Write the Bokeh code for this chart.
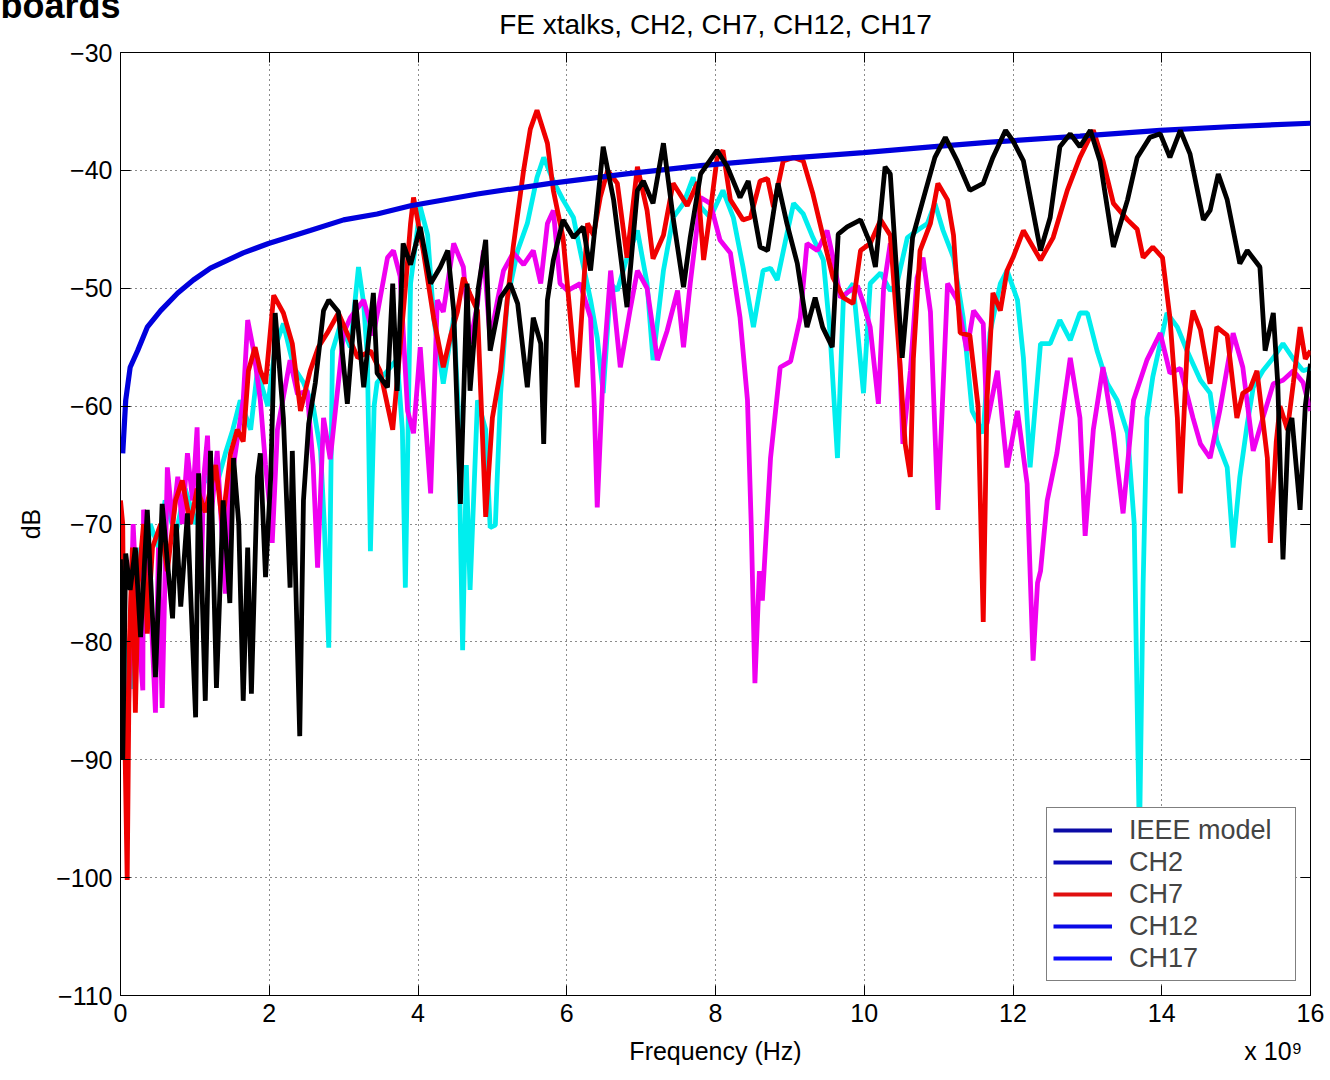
from bokeh.plotting import figure
from bokeh.models import Range1d, FixedTicker, LinearAxis, Legend, LegendItem, Title
from bokeh.embed import file_html
from bokeh.resources import INLINE

# ---------------- data (frequency in GHz, level in dB) ----------------
ieee_model = [(0.03, -64), (0.07, -59.5), (0.13, -56.7), (0.23, -55.3), (0.36, -53.3),
              (0.54, -51.9), (0.77, -50.4), (0.98, -49.3), (1.21, -48.3), (1.65, -47.0),
              (1.99, -46.2), (2.55, -45.1), (3.0, -44.2), (3.45, -43.7), (3.9, -43.0),
              (4.8, -42.0), (5.78, -41.1), (6.8, -40.3), (7.8, -39.6), (8.9, -39.0),
              (9.99, -38.5), (10.9, -38.0), (11.7, -37.6), (12.9, -37.1), (13.98, -36.6),
              (14.9, -36.3), (16.0, -36.0)]

ch2 = [(0.0, -73), (0.03, -90), (0.07, -72.5), (0.13, -75.6), (0.20, -72), (0.27, -79.6),
       (0.36, -68.8), (0.47, -83), (0.56, -68.3), (0.70, -78), (0.75, -70), (0.81, -77),
       (0.90, -69.1), (1.01, -86.4), (1.05, -65.7), (1.14, -85), (1.21, -63.8), (1.29, -83.9),
       (1.38, -68), (1.47, -76.7), (1.52, -64.4), (1.59, -70), (1.65, -85), (1.71, -72),
       (1.76, -84.4), (1.84, -66), (1.88, -64), (1.95, -74.5), (2.02, -66), (2.08, -52.1),
       (2.19, -61), (2.28, -75.4), (2.31, -63.8), (2.41, -88), (2.46, -68), (2.53, -61.5),
       (2.62, -58), (2.73, -51.9), (2.80, -51), (2.93, -52), (3.05, -59.8), (3.16, -51),
       (3.27, -58.4), (3.40, -50.4), (3.45, -57.2), (3.59, -58.4), (3.66, -49.6), (3.72, -58.7),
       (3.80, -46.2), (3.90, -48), (4.03, -44.8), (4.17, -49.6), (4.30, -48.2), (4.40, -46.8),
       (4.48, -51.9), (4.57, -68.3), (4.66, -49.6), (4.70, -58.7), (4.81, -50), (4.91, -45.9),
       (4.97, -55.3), (5.11, -50.8), (5.24, -49.6), (5.34, -51.3), (5.47, -58.4), (5.55, -52.5),
       (5.65, -54.7), (5.69, -63.2), (5.74, -51), (5.82, -47.6), (5.95, -44.2), (6.09, -45.7),
       (6.22, -44.8), (6.32, -48.5), (6.49, -38), (6.63, -42.5), (6.81, -51.6), (6.95, -41.7),
       (7.03, -40.9), (7.16, -42.8), (7.30, -37.7), (7.43, -44), (7.57, -49.9), (7.66, -45.7),
       (7.80, -40.3), (8.02, -38.3), (8.16, -39.7), (8.33, -42.3), (8.44, -40.9), (8.60, -46.5),
       (8.70, -46.8), (8.84, -41.1), (8.96, -44.5), (9.10, -47.9), (9.23, -53.3), (9.34, -50.8),
       (9.44, -53.3), (9.57, -55), (9.65, -45.4), (9.77, -44.8), (9.95, -44.2), (10.08, -46.2),
       (10.15, -48.2), (10.28, -39.7), (10.35, -40.3), (10.51, -55.9), (10.65, -45.7), (10.79, -42.5),
       (10.95, -38.9), (11.09, -37.2), (11.25, -39.2), (11.42, -41.7), (11.60, -41.1), (11.73, -38.9),
       (11.90, -36.6), (12.00, -37.5), (12.14, -39.2), (12.37, -46.8), (12.50, -44), (12.63, -38),
       (12.77, -36.9), (12.90, -38), (13.04, -36.6), (13.17, -39.2), (13.35, -46.5), (13.54, -42.5),
       (13.67, -38.9), (13.84, -37.2), (13.98, -36.9), (14.11, -38.9), (14.25, -36.6), (14.38, -38.6),
       (14.56, -44.2), (14.65, -43.4), (14.76, -40.3), (14.88, -42.5), (15.05, -47.9), (15.15, -46.8),
       (15.32, -48.2), (15.39, -55.3), (15.50, -52.1), (15.56, -58.1), (15.63, -73), (15.70, -62),
       (15.75, -61), (15.86, -68.8), (15.93, -60), (16.0, -56.4)]

ch7 = [(0.0, -68), (0.03, -70), (0.05, -85), (0.09, -100.2), (0.12, -80), (0.16, -72),
       (0.20, -86), (0.24, -75), (0.31, -70), (0.36, -79.3), (0.43, -72), (0.54, -70),
       (0.63, -74), (0.74, -68), (0.83, -66.3), (0.94, -70), (1.03, -67), (1.14, -69),
       (1.28, -65), (1.37, -70), (1.48, -64), (1.57, -62), (1.65, -63), (1.72, -57),
       (1.81, -55), (1.88, -57), (1.95, -58.1), (2.06, -50.6), (2.19, -52.1), (2.31, -54.7),
       (2.42, -60.4), (2.55, -57), (2.66, -55), (2.78, -53.8), (2.93, -52.1), (3.06, -54),
       (3.19, -55.9), (3.36, -55.3), (3.49, -57), (3.66, -62), (3.76, -55), (3.83, -50),
       (3.90, -44.5), (3.94, -42.3), (4.07, -46.8), (4.21, -52.5), (4.34, -56.7), (4.44, -54),
       (4.53, -52), (4.61, -49.1), (4.70, -50.5), (4.80, -51.9), (4.91, -69.4), (5.00, -61),
       (5.11, -57), (5.20, -51), (5.28, -46.5), (5.42, -40), (5.51, -36.5), (5.60, -34.9),
       (5.74, -37.7), (5.82, -41.7), (5.95, -45.7), (6.09, -55.3), (6.14, -58.4), (6.28, -44.5),
       (6.36, -45.5), (6.45, -42.3), (6.55, -40), (6.68, -41.1), (6.81, -47.4), (6.95, -39.7),
       (7.08, -43.4), (7.16, -47.5), (7.30, -45.5), (7.43, -41.1), (7.62, -43), (7.76, -41),
       (7.84, -47.6), (7.93, -43.5), (8.02, -39), (8.10, -38.3), (8.20, -42.5), (8.37, -44.2),
       (8.47, -44), (8.60, -40.9), (8.70, -40.7), (8.78, -43.1), (8.91, -39.2), (9.05, -38.9),
       (9.18, -39.2), (9.31, -42), (9.45, -45.7), (9.58, -49.1), (9.72, -50.8), (9.85, -51.3),
       (9.95, -46.8), (10.08, -46.2), (10.22, -44.2), (10.35, -45.5), (10.48, -56.4), (10.55, -63.2),
       (10.62, -66), (10.66, -56), (10.75, -46.8), (10.89, -44.5), (10.99, -41.1), (11.12, -42.5),
       (11.20, -45.5), (11.29, -53.8), (11.42, -54), (11.53, -60), (11.60, -78.3), (11.65, -59.5),
       (11.73, -50.4), (11.83, -51.9), (11.92, -48.5), (12.00, -47.4), (12.14, -45.1), (12.37, -47.6),
       (12.54, -45.7), (12.73, -41.7), (12.90, -38.9), (13.08, -36.6), (13.21, -39.2), (13.35, -42.8),
       (13.54, -44.2), (13.67, -45), (13.75, -47.4), (13.88, -46.5), (14.01, -47.4), (14.11, -52.5),
       (14.21, -61), (14.25, -67.4), (14.34, -55.3), (14.42, -51.9), (14.52, -53.5), (14.65, -58.1),
       (14.74, -53.3), (14.88, -54), (15.01, -61), (15.09, -58.9), (15.19, -58.5), (15.28, -57),
       (15.42, -64.4), (15.46, -71.6), (15.54, -63), (15.59, -60), (15.69, -62), (15.77, -58),
       (15.86, -53.3), (15.93, -56), (16.0, -55.3)]

ch12 = [(0.03, -74), (0.07, -85), (0.11, -80), (0.15, -84), (0.19, -76), (0.23, -80),
        (0.27, -72), (0.34, -74), (0.40, -70), (0.51, -72), (0.60, -68), (0.74, -71),
        (0.87, -67), (1.01, -70), (1.14, -66), (1.28, -67), (1.41, -64), (1.51, -62),
        (1.61, -59.5), (1.75, -62), (1.84, -57), (1.98, -60), (2.08, -55), (2.19, -53),
        (2.33, -56.7), (2.46, -58), (2.59, -60), (2.69, -63.8), (2.74, -70), (2.80, -80.5),
        (2.85, -55.3), (2.96, -53), (3.09, -55), (3.20, -48.2), (3.27, -51.3), (3.32, -56),
        (3.36, -72.3), (3.41, -60), (3.45, -58), (3.59, -57), (3.72, -56), (3.79, -62),
        (3.83, -75.4), (3.90, -49.6), (4.03, -43.1), (4.13, -45.5), (4.21, -52.5), (4.34, -58.1),
        (4.48, -52.5), (4.54, -60), (4.60, -80.7), (4.65, -65), (4.70, -75.6), (4.80, -59.5),
        (4.91, -62), (4.97, -70.3), (5.04, -70.1), (5.11, -59), (5.20, -51), (5.34, -46.8),
        (5.47, -44.5), (5.60, -40.6), (5.69, -38.9), (5.82, -40.9), (5.95, -42.5), (6.09, -44),
        (6.18, -46.8), (6.32, -51), (6.41, -54.2), (6.49, -58.9), (6.59, -49.6), (6.68, -50.2),
        (6.81, -47.4), (6.95, -45.1), (7.08, -49.6), (7.16, -56.1), (7.30, -48.5), (7.43, -44),
        (7.57, -42.8), (7.70, -40.6), (7.80, -43.1), (7.93, -44), (8.10, -41.7), (8.24, -44),
        (8.37, -48.2), (8.51, -53.3), (8.64, -48.5), (8.74, -48.3), (8.83, -49.3), (8.96, -45.4),
        (9.05, -42.8), (9.18, -43.7), (9.31, -45.7), (9.45, -47.6), (9.54, -53.8), (9.64, -64.4),
        (9.72, -50.8), (9.85, -49.6), (9.99, -58.9), (10.08, -49.6), (10.22, -48.7), (10.35, -50.2),
        (10.44, -49.6), (10.58, -45.7), (10.71, -45.1), (10.85, -44.5), (10.95, -42.8), (11.06, -45.1),
        (11.20, -47.4), (11.33, -52.5), (11.45, -60.4), (11.60, -62.3), (11.69, -53.8), (11.83, -49.6),
        (11.92, -48.5), (12.06, -51), (12.14, -55.9), (12.23, -65.2), (12.37, -54.7), (12.50, -54.7),
        (12.63, -52.7), (12.77, -54.4), (12.90, -52.1), (13.00, -52.1), (13.13, -55.3), (13.27, -58.1),
        (13.40, -59.5), (13.54, -62.3), (13.63, -70), (13.70, -97), (13.75, -75), (13.80, -61),
        (13.88, -57.5), (14.07, -52.1), (14.21, -53.3), (14.34, -55.3), (14.52, -57.8), (14.65, -58.9),
        (14.74, -62.9), (14.88, -65.2), (14.96, -72), (15.05, -66), (15.15, -61.5), (15.23, -58.4),
        (15.36, -57), (15.50, -55.9), (15.63, -54.7), (15.77, -56), (15.90, -57), (16.0, -56.8)]

ch17 = [(0.03, -80), (0.07, -91.2), (0.11, -85), (0.15, -75), (0.17, -70), (0.23, -78),
        (0.30, -84.1), (0.31, -68.8), (0.36, -70), (0.40, -76), (0.47, -86), (0.51, -72),
        (0.56, -85.6), (0.63, -65.2), (0.70, -70), (0.77, -66), (0.83, -70), (0.90, -64),
        (0.97, -68), (1.03, -61.8), (1.08, -75.9), (1.12, -66), (1.17, -62.5), (1.21, -70),
        (1.30, -63.8), (1.41, -75.9), (1.47, -66), (1.52, -65), (1.59, -62), (1.65, -59.5),
        (1.71, -52.7), (1.79, -55.3), (1.88, -59.5), (1.95, -65), (2.02, -69.4), (2.04, -71.6),
        (2.11, -62), (2.28, -56.1), (2.38, -59), (2.51, -58.7), (2.59, -65), (2.65, -73.7),
        (2.73, -61), (2.82, -64.5), (3.00, -53.8), (3.09, -52.5), (3.27, -51), (3.40, -54),
        (3.59, -47.4), (3.67, -46.8), (3.76, -49), (3.86, -60.4), (3.94, -62.3), (4.03, -55),
        (4.17, -67.4), (4.26, -51), (4.34, -52), (4.48, -46.2), (4.61, -48.2), (4.70, -54.7),
        (4.80, -51.3), (4.88, -46.8), (4.97, -54.4), (5.07, -51), (5.15, -48.5), (5.28, -47),
        (5.42, -48), (5.55, -46.8), (5.65, -49.6), (5.74, -44.5), (5.82, -43.4), (5.91, -49.6),
        (6.01, -50.2), (6.18, -49.6), (6.32, -52.5), (6.37, -60), (6.41, -68.6), (6.49, -57),
        (6.59, -48.5), (6.72, -56.7), (6.85, -51.9), (6.95, -48.5), (7.08, -50), (7.22, -56.1),
        (7.35, -53.6), (7.49, -50.2), (7.57, -55), (7.66, -49.6), (7.80, -42.3), (7.93, -42.8),
        (8.06, -45.9), (8.20, -47), (8.33, -52.5), (8.43, -59.5), (8.48, -70), (8.53, -83.5),
        (8.59, -74), (8.63, -76.5), (8.74, -64.4), (8.87, -56.7), (9.01, -56.2), (9.14, -52.5),
        (9.23, -46.2), (9.37, -46.8), (9.50, -45.1), (9.58, -47.4), (9.68, -50.8), (9.81, -50.2),
        (9.91, -49.8), (9.99, -51.3), (10.08, -53.3), (10.19, -59.8), (10.26, -50), (10.35, -46.2),
        (10.44, -50), (10.52, -63.2), (10.62, -57), (10.71, -49.1), (10.79, -47.4), (10.89, -52),
        (10.99, -68.8), (11.12, -49.6), (11.25, -51), (11.38, -55.3), (11.47, -51.9), (11.60, -53),
        (11.65, -61.5), (11.79, -57), (11.92, -65.2), (12.06, -60.4), (12.19, -66.6), (12.27, -81.6),
        (12.33, -75), (12.37, -74), (12.46, -68), (12.59, -64), (12.77, -55.9), (12.90, -61),
        (12.97, -71), (13.08, -62), (13.21, -56.7), (13.35, -62.3), (13.48, -69.1), (13.62, -59.5),
        (13.80, -56.1), (13.98, -53.8), (14.11, -57.2), (14.25, -56.8), (14.42, -61), (14.52, -63.2),
        (14.65, -64.4), (14.78, -60.4), (14.96, -53.8), (15.09, -56.7), (15.23, -63.8), (15.36, -61),
        (15.50, -58.1), (15.63, -57.8), (15.77, -57), (15.90, -58), (16.0, -60.4)]

x_ticks = [0, 2, 4, 6, 8, 10, 12, 14, 16]
x_tick_labels = ["0", "2", "4", "6", "8", "10", "12", "14", "16"]
y_ticks = [-110, -100, -90, -80, -70, -60, -50, -40, -30]
y_tick_labels = ["\u2212110", "\u2212100", "\u221290", "\u221280", "\u221270",
                 "\u221260", "\u221250", "\u221240", "\u221230"]

title_text = "FE xtalks, CH2, CH7, CH12, CH17"
header_text = "boards"
x_label_text = "Frequency (Hz)"
x_exponent_text = "x 10\u2079"
x_label_positions = [8.0, 15.5]          # where the x-axis caption and the exponent sit

legend_labels = ["IEEE model", "CH2", "CH7", "CH12", "CH17"]
legend_colors = ["#0b0ba6", "#0b0bb8", "#e01010", "#0b0be6", "#0b0bff"]

FONT = "Liberation Sans"

# ---------------- figure ----------------
p = figure(width=1330, height=1080, output_backend="svg", toolbar_location=None,
           x_range=Range1d(0, 16), y_range=Range1d(-110, -30),
           min_border_left=120, min_border_right=20, min_border_top=52, min_border_bottom=85)
p.background_fill_color = "white"
p.border_fill_color = "white"
p.outline_line_color = "black"
p.outline_line_width = 1


def unzip(pairs):
    return [a for a, b in pairs], [b for a, b in pairs]


LW = 4.8
fx, fy = unzip(ch12)
p.line(fx, fy, line_color="#00eeee", line_width=LW)
fx, fy = unzip(ch17)
p.line(fx, fy, line_color="#f000f0", line_width=LW)
fx, fy = unzip(ch7)
p.line(fx, fy, line_color="#f00000", line_width=LW)
fx, fy = unzip(ieee_model)
p.line(fx, fy, line_color="#0000dd", line_width=LW + 0.4)
fx, fy = unzip(ch2)
p.line(fx, fy, line_color="black", line_width=LW)

# main axes
for ax in (p.xaxis[0], p.yaxis[0]):
    ax.major_tick_in = 10
    ax.major_tick_out = 0
    ax.minor_tick_line_color = None
    ax.major_tick_line_color = "black"
    ax.axis_line_color = "black"
    ax.major_label_text_font = FONT
    ax.major_label_text_font_size = "25px"
    ax.major_label_text_color = "black"
    ax.axis_label_text_font = FONT
    ax.axis_label_text_font_size = "25px"
    ax.axis_label_text_font_style = "normal"
    ax.axis_label_text_color = "black"
    ax.major_label_standoff = 8

p.xaxis[0].ticker = FixedTicker(ticks=x_ticks)
p.xaxis[0].major_label_overrides = dict(zip(x_ticks, x_tick_labels))
p.yaxis[0].ticker = FixedTicker(ticks=y_ticks)
p.yaxis[0].major_label_overrides = dict(zip(y_ticks, y_tick_labels))
p.yaxis[0].axis_label = "dB"
p.yaxis[0].axis_label_standoff = 8

# mirrored ticks on the right (MATLAB box), no labels drawn
ax_r = LinearAxis(ticker=FixedTicker(ticks=y_ticks), major_tick_in=10, major_tick_out=0,
                  minor_tick_line_color=None, major_label_text_font_size="1px",
                  major_label_text_color=None, axis_line_color=None, major_label_standoff=0)
p.add_layout(ax_r, "right")

# mirrored ticks on top; its caption is the chart title
ax_t = LinearAxis(ticker=FixedTicker(ticks=x_ticks), major_tick_in=10, major_tick_out=0,
                  minor_tick_line_color=None, major_label_text_font_size="1px",
                  major_label_text_color=None, axis_line_color=None, major_label_standoff=0,
                  axis_label=title_text, axis_label_text_font=FONT,
                  axis_label_text_font_size="28px", axis_label_text_font_style="normal",
                  axis_label_text_color="black", axis_label_standoff=13)
p.add_layout(ax_t, "above")

# caption row under the x tick labels: "Frequency (Hz)" and the exponent
ax_cap = LinearAxis(ticker=FixedTicker(ticks=x_label_positions),
                    major_label_overrides=dict(zip(x_label_positions, [x_label_text, x_exponent_text])),
                    major_tick_in=0, major_tick_out=0, major_tick_line_color=None,
                    minor_tick_line_color=None, axis_line_color=None,
                    major_label_text_font=FONT, major_label_text_font_size="25px",
                    major_label_text_color="black", major_label_standoff=12)
p.add_layout(ax_cap, "below")

# cut-off slide header at the very top-left
hdr = Title(text=header_text, align="left", offset=-120, standoff=-41, vertical_align="bottom",
            text_font=FONT, text_font_size="36px", text_font_style="bold", text_color="black")
p.add_layout(hdr, "above")

# grid
for g in (p.xgrid[0], p.ygrid[0]):
    g.grid_line_color = "black"
    g.grid_line_dash = "1 4"
    g.grid_line_alpha = 0.9
    g.grid_line_width = 1
p.xgrid[0].ticker = FixedTicker(ticks=x_ticks)
p.ygrid[0].ticker = FixedTicker(ticks=y_ticks)

# legend with the original (mismatched) colours
nan = float("nan")
items = []
for lab, col in zip(legend_labels, legend_colors):
    r = p.line([0, 1], [nan, nan], line_color=col, line_width=4)
    items.append(LegendItem(label=lab, renderers=[r]))
legend = Legend(items=items, location="bottom_right", margin=14, padding=6, spacing=0,
                glyph_width=59, glyph_height=32, label_height=32, label_standoff=17,
                label_width=160,
                label_text_font=FONT, label_text_font_size="27px",
                border_line_color="black", border_line_width=1,
                background_fill_color="white", background_fill_alpha=1.0)
p.add_layout(legend)

open("out.html", "w").write(file_html(p, INLINE))
